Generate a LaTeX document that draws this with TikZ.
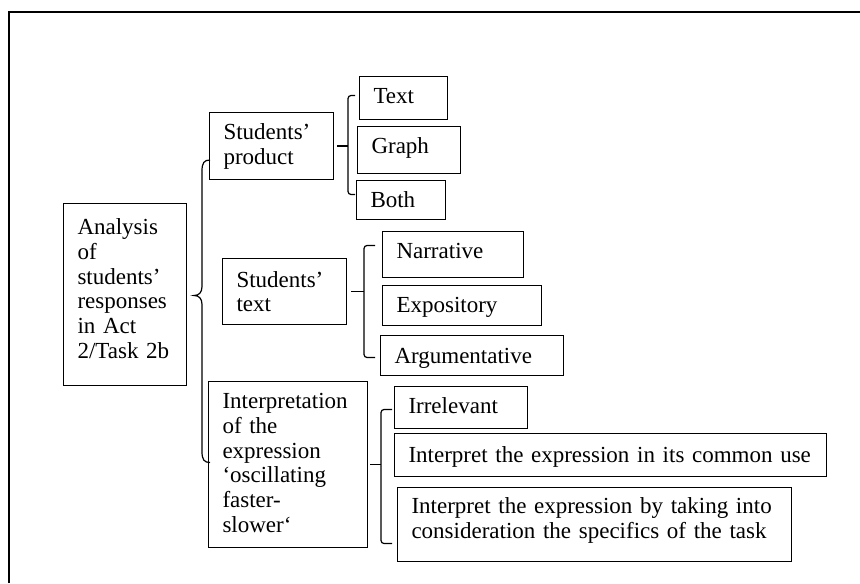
\documentclass[tikz,border=0pt]{standalone}
\usepackage{fontspec}
\setmainfont{Liberation Serif}
\usepackage{tikz}
\usetikzlibrary{calc}
\newcommand{\boxfont}{\fontsize{11.5pt}{12.4pt}\selectfont\hyphenpenalty=10000 }
\tikzset{
  box/.style={
    draw,
    line width=0.5pt,
    anchor=north west,
    align=left,
    inner xsep=7pt,
    inner ysep=0pt,
    text height=13.5pt,
    font=\boxfont
  },
  brace/.style={draw, line width=0.6pt},
  bracket/.style={draw, line width=0.6pt, rounded corners=1.5pt},
  frame/.style={draw, line width=1pt}
}
\begin{document}
\begin{tikzpicture}[x=0.5pt,y=-0.5pt]
\useasboundingbox (0,0) rectangle (860,583);
\draw[frame] (9,583) |- (860,12);

% first level
\node[box, text width=47.5pt, text height=15.5pt, text depth=75.5pt] (main) at (63,203)
  {Analysis\\of\\students’\\responses\\in Act\\2/Task 2b};
\node[box, text width=48pt, text depth=20pt] (prod) at (209,112) {Students’\\product};
\node[box, text width=48pt, text height=14.3pt, text depth=18.7pt] (stext) at (222,258) {Students’\\text};
\node[box, text width=65.5pt, text depth=69.5pt] (interp) at (208,381)
  {Interpretation\\of the\\expression\\‘oscillating\\faster-\\slower‘};

% product kinds
\node[box, text width=30pt, text depth=8pt] (text) at (359,76) {Text};
\node[box, text width=37.5pt, text depth=10pt] (graph) at (357,126) {Graph};
\node[box, text width=30.5pt, text depth=6pt] (both) at (356,180) {Both};

% text kinds
\node[box, text width=56.5pt, text depth=9.5pt] (narr) at (382,231) {Narrative};
\node[box, text width=65.5pt, text depth=6.5pt] (expo) at (382,285) {Expository};
\node[box, text width=77.5pt, text height=14.2pt, text depth=5.8pt] (argu) at (380,335) {Argumentative};

% interpretations
\node[box, text width=52.5pt, text depth=7.5pt] (irrel) at (394,386) {Irrelevant};
\node[box, text width=202pt, text height=14.3pt, text depth=7.2pt] (common) at (394,433)
  {Interpret the expression in its common use};
\node[box, text width=183pt, text height=13pt, text depth=24pt] (spec) at (397,487)
  {Interpret the expression by taking into\\consideration the specifics of the task};

% big brace
\coordinate (tip) at ($(main.east)+(7,1)$);
\coordinate (btop) at ($(prod.west)+(1,14)$);
\coordinate (bbot) at ($(interp.west)+(2,-2)$);
\draw[brace] (btop) .. controls +(-6,0) and +(0,-8) .. ($(tip|-btop)+(8,11)$)
  -- ($(tip)+(8,-9)$) .. controls +(0,6) and +(5,0) .. (tip)
  .. controls +(5,0) and +(0,-6) .. ($(tip)+(8,9)$)
  -- ($(tip|-bbot)+(8,-11)$) .. controls +(0,8) and +(-6,0) .. (bbot);

% brackets
\draw[bracket] ($(prod.east)+(3,0)$) -- ($(prod.east)+(14,0)$);
\draw[bracket] ($(text.west)+(-4,-2.5)$) -| ($(prod.east)+(14,0)$) |- ($(both.west)+(-1,-5.5)$);

\draw[bracket] ($(stext.east)+(4,0)$) -- ($(stext.east)+(17,0)$);
\draw[bracket] ($(narr.west)+(-7,-9)$) -| ($(stext.east)+(17,0)$) |- ($(argu.west)+(-5,2)$);

\draw[bracket] ($(interp.east)+(2,0)$) -- ($(interp.east)+(13,0)$);
\draw[bracket] ($(irrel.west)+(-2,2)$) -| ($(interp.east)+(13,0)$) |- ($(spec.west)+(-5,19)$);

\end{tikzpicture}
\end{document}
